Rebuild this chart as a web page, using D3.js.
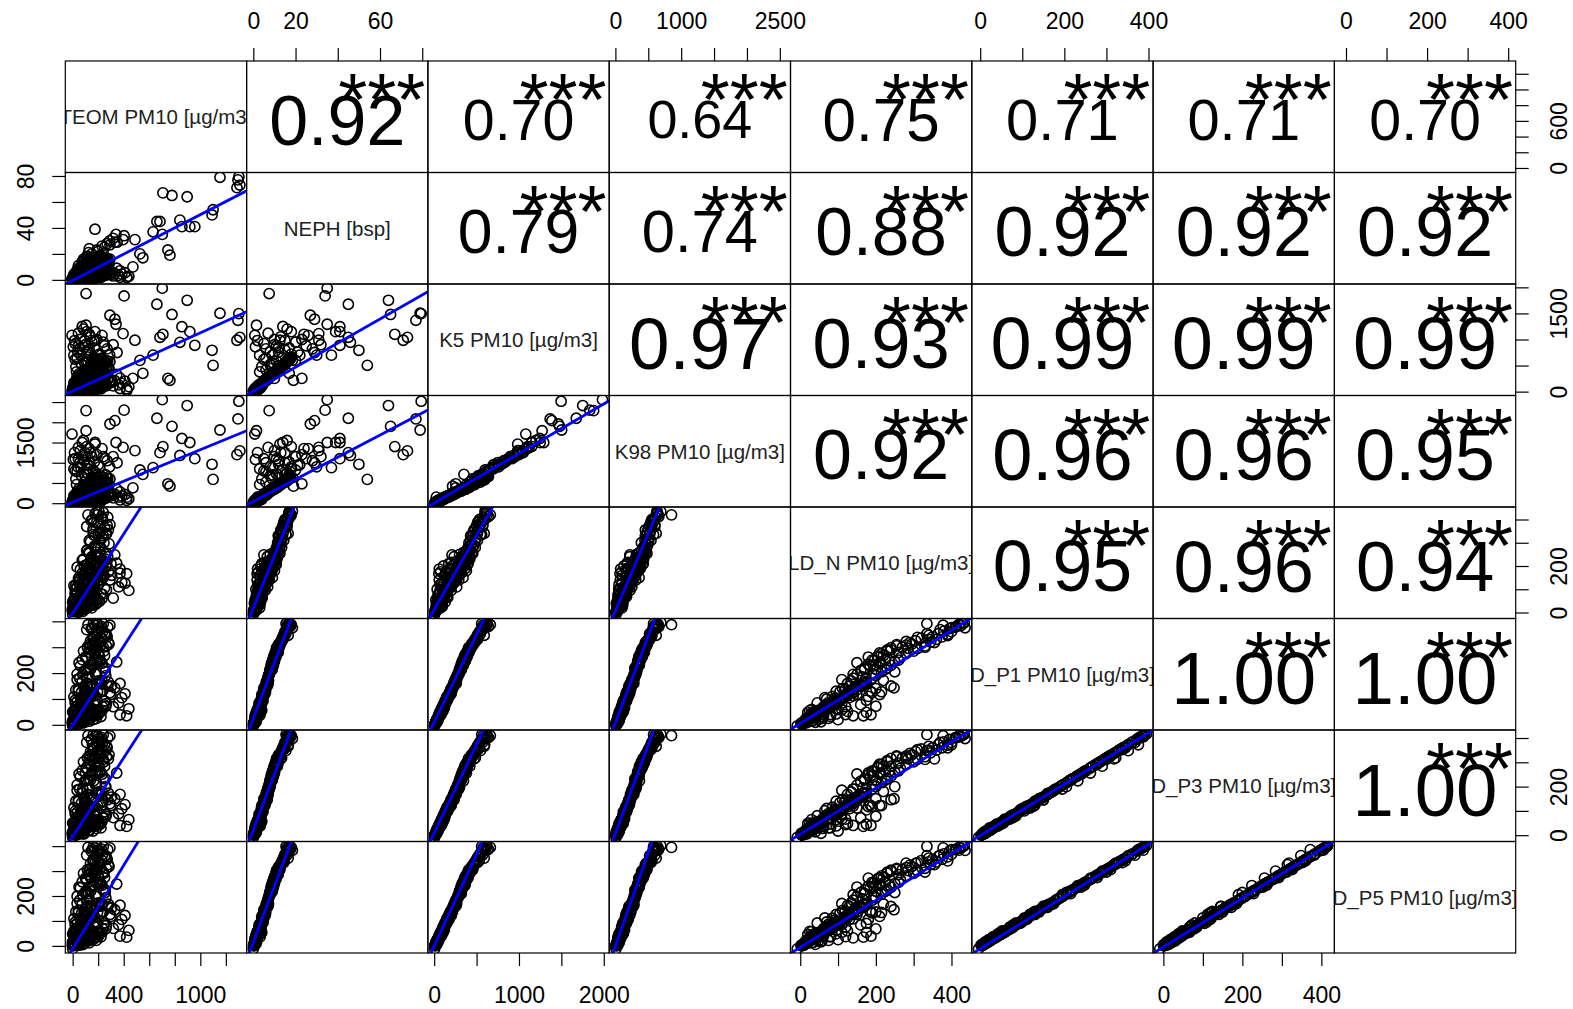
<!DOCTYPE html>
<html>
<head>
<meta charset="utf-8">
<script src="https://cdn.jsdelivr.net/npm/d3@7"></script>
<style>
  body { margin: 0; background: #fff; }
  svg text { font-family: "Liberation Sans", Arial, sans-serif; }
</style>
</head>
<body>
<div id="chart"></div>
<script>
// variable names on the diagonal
const varNames = ["TEOM PM10 [µg/m3]", "NEPH [bsp]", "K5 PM10 [µg/m3]", "K98 PM10 [µg/m3]",
  "LD_N PM10 [µg/m3]", "D_P1 PM10 [µg/m3]", "D_P3 PM10 [µg/m3]", "D_P5 PM10 [µg/m3]"];

const teom = [5,18,-3,35,60,12,90,45,120,25,
  150,70,8,100,200,0,52,140,30,180,
  230,80,110,60,130,20,170,95,240,45,
  155,210,75,115,260,35,185,135,88,225,
  10,165,250,292,345,371,410,318,371,423,
  300,330,150,220,110,200,245,130,175,215,
  160,270,190,235,162,292,266,188,227,120,
  205,140,255,180,210,145,265,195,125,40,
  65,15,85,105,55,125,160,20,75,
  28,95,140,190,210,5,50,115,175,235,
  38,80,145,265,15,62,128,98,0,155,
  70,160,25,120,200,55,180,95,240,140,
  60,215,105,170,250,85,195,130,225,45,
  150,280,110,230,75,185,140,230,160,250,
  200,145,275,175,220,115,285,200,240,170,
  360,440,305,385,
  12,48,85,132,168,205,30,72,110,150,
  190,245,20,58,95,135,175,215,260,40,
  78,118,160,200,8,65,105,145,185,230,
  35,80,125,165,210,255,50,100,140,185,
  230,275,90,195,120,130,175,215,260,110,
  155,195,240,280,165,22,55,90,130,0,
  38,75,112,-2,150,185,222,15,60,100,
  105,403,702,660,897,292,331,340,105,-5,
  175,1154,1295,1310,1287,488,684,840,957,1092,
  1100,746,762,550,472,425,707,778,918,630,
  856,1302,527,317,395,348,40,90,20,130,
  60,110,10,150,75,200,250,180,35,95,175,
  25,70,120,160,210,55,100,140,15,45,85,190,270,230,125,
  30,90,150,200,260,20,65,115,170,240,45,95,5,130,290];
const neph = [0.2,0.5,0.1,1.0,1.5,0.8,2.0,1.2,2.5,1.8,
  3.0,2.2,0.6,1.6,3.5,0.0,1.4,2.8,2.6,3.2,
  4.0,0.9,1.1,3.5,4.0,3.8,4.5,5.0,5.5,5.2,
  6.0,6.5,6.2,7.0,7.2,7.5,8.0,6.8,4.8,5.8,
  4.2,3.6,4.6,5.0,9.0,7.0,5.5,3.0,2.0,1.8,
  4.0,5.0,9.5,10.0,10.5,11.0,11.5,12.0,12.5,13.0,
  13.5,14.0,14.5,15.0,15.5,16.0,16.5,17.0,17.5,18.0,
  18.5,9.0,8.5,9.8,10.8,11.2,12.2,9.2,11.8,0.4,
  0.7,1.3,1.9,2.4,2.9,3.3,2.1,2.7,3.9,
  0.9,1.2,1.7,2.3,2.0,1.5,2.4,3.1,3.4,3.0,
  3.6,4.1,4.4,3.8,0.3,0.6,1.0,2.7,1.9,2.5,
  5.0,5.6,5.4,6.3,6.6,6.9,7.4,7.8,8.2,8.8,
  8.4,9.2,9.6,10.2,9.9,10.6,11.0,7.0,6.0,4.9,
  5.9,6.4,8.0,8.6,9.3,12.8,13.2,13.8,14.2,14.8,
  15.2,15.8,16.2,16.8,12.4,11.4,12.0,14.0,17.2,11.6,
  3.5,2.8,6.0,4.4,
  0.8,1.1,1.4,2.0,2.6,3.0,2.2,3.4,3.8,4.6,
  4.0,3.2,1.6,2.9,4.4,5.0,1.8,2.4,3.6,0.5,
  0.9,1.5,1.2,2.1,2.0,4.2,5.6,6.0,6.4,5.2,
  6.8,7.6,8.2,8.8,9.4,8.0,9.0,10.0,10.8,11.4,
  7.2,6.6,5.8,5.4,4.8,12.6,13.4,14.4,15.4,16.0,
  16.6,17.4,11.8,13.0,14.6,0.2,0.3,0.6,0.8,0.4,
  1.0,1.3,1.8,0.6,2.4,1.6,2.0,2.5,3.2,3.6,
  7.5,34,35,45,64,27,29,35,1.5,0.7,
  12.6,79,77,73,71,31,45,46,41,50,
  54,23,19,17,10,2,67,65,41,37,
  41,79.5,20,32,31,29,8,12,5,15,
  10,18,3,20,14,22,25,16,6,9,39,
  4,8,11,14,18,6,10,13,2,7,16,23,28,26,21,
  3,6,9,12,15,5,9,12,17,20,11,15,1,24,30];
const k5 = [10,30,20,45,55,60,80,70,95,100,
  75,110,40,35,90,5,25,120,115,65,
  105,15,50,140,160,150,175,190,200,210,
  225,240,250,265,280,290,300,230,180,205,
  170,130,150,180,330,260,200,110,60,55,
  172,210,340,360,380,400,410,430,445,460,
  480,500,515,535,560,575,590,620,640,662,
  600,320,310,350,390,420,440,370,410,12,
  22,52,68,88,102,118,58,132,145,
  35,48,62,78,70,75,92,108,125,100,
  128,145,152,115,18,28,40,85,72,90,
  185,200,195,230,240,255,275,295,305,320,
  315,335,355,372,360,390,405,270,235,200,
  215,245,300,330,345,470,480,495,505,525,
  545,565,585,600,455,425,440,510,615,430,
  130,95,225,160,
  30,55,40,70,95,88,85,130,150,175,
  140,120,65,105,165,185,60,75,110,25,
  20,45,35,68,95,160,200,225,240,195,
  265,290,320,345,365,300,340,380,400,420,
  260,235,215,200,175,455,485,510,545,570,
  595,625,430,470,530,8,14,18,26,15,
  38,42,58,28,62,40,52,80,112,118,
  1881,1835,1985,1676,1752,1465,1388,1292,1273,1080,
  985,1503,1368,1042,985,985,1042,946,889,793,
  505,255,217,351,255,25,1100,1480,1150,700,
  1245,1497,600,900,1113,750,760,850,920,800,
  1000,1150,700,950,1250,700,880,600,640,550,1150,
  480,520,580,650,720,820,900,1050,980,1120,1200,1000,820,1080,760,
  380,420,450,500,560,620,700,760,840,950,880,980,860,1100,700];
const k98 = [15,25,35,60,50,80,70,95,110,90,
  100,130,55,40,120,8,20,140,125,85,
  95,30,65,150,175,165,160,200,215,225,
  240,230,270,280,300,285,320,250,190,195,
  185,140,170,200,350,280,215,130,80,70,
  180,220,360,345,400,420,395,450,470,480,
  500,520,540,555,580,600,620,690,660,853,
  632,330,300,370,410,430,455,380,440,18,
  28,48,62,96,118,112,72,138,158,
  42,40,70,90,60,85,100,120,135,115,
  120,150,170,130,22,32,52,78,68,98,
  195,210,200,245,255,265,290,310,300,340,
  325,350,375,390,365,400,420,285,240,215,
  225,260,315,335,360,490,505,510,530,545,
  560,590,610,625,475,440,460,520,640,445,
  150,110,240,175,
  45,40,62,55,120,100,110,115,170,160,
  165,105,80,95,190,175,75,95,130,15,
  35,40,50,55,80,150,220,205,260,180,
  250,310,300,365,340,320,360,355,425,400,
  280,220,235,185,195,480,470,540,520,600,
  575,650,455,455,555,12,10,24,20,25,
  30,55,48,35,74,52,45,95,100,135,
  2289,2300,2560,2100,2414,1958,2040,1500,1791,1709,
  1460,1809,2083,1293,1200,1300,1250,1180,1100,962,
  589,480,420,713,380,150,1400,1900,1500,880,
  1600,2521,820,1150,1380,1000,900,1050,1100,1000,
  1300,1400,850,1150,1500,950,1100,750,780,700,1500,
  600,680,720,820,900,1000,1150,1250,1250,1380,1550,1200,1050,1350,940,
  460,520,600,640,700,800,880,960,1020,1150,1100,1250,1080,1350,900];
const ldn = [4,12,8,25,30,35,45,50,40,60,
  20,70,18,15,55,-8,10,80,75,35,
  60,5,28,95,110,100,125,130,150,145,
  165,175,170,190,200,195,215,160,120,140,
  115,90,105,140,212,169,126,62,187,167,
  210,248,240,250,265,280,300,310,330,345,
  360,375,390,400,335,378,340,434,413,420,
  436,225,230,260,205,230,255,190,260,2,
  14,22,38,48,58,66,32,82,96,
  20,24,30,42,48,52,62,68,74,78,
  88,92,85,98,10,16,26,55,44,58,
  105,112,118,125,135,140,150,160,170,180,
  185,195,205,215,220,230,240,165,155,130,
  145,175,200,210,225,290,305,320,350,365,
  380,395,410,425,280,270,295,340,430,285,
  110,95,160,130,
  35,60,48,95,110,125,30,45,70,150,
  175,160,80,120,140,190,140,175,200,40,
  55,75,100,120,25,65,95,130,165,185,
  110,140,170,200,235,250,150,180,210,240,
  220,240,200,215,180,255,280,310,335,370,
  400,420,330,355,390,6,3,18,30,12,
  20,32,42,16,62,58,80,50,75,88];
const dp1 = [3,10,6,22,28,34,40,44,52,58,
  48,62,15,24,50,-4,14,66,70,38,
  56,8,30,88,100,95,112,125,135,140,
  150,162,168,180,190,196,205,155,118,128,
  108,80,92,124,243,160,120,70,39,35,
  117,143,230,245,260,275,285,295,305,320,
  330,340,350,360,391,385,346,395,380,387,
  375,215,220,250,265,290,305,250,280,5,
  12,26,36,46,64,74,42,84,98,
  24,32,45,55,50,48,66,78,86,70,
  92,104,110,82,6,18,22,60,50,62,
  128,140,135,160,170,180,195,210,220,235,
  228,248,262,275,268,285,298,185,158,132,
  148,165,215,238,252,318,325,335,340,352,
  362,372,378,384,308,300,312,330,390,296,
  85,62,150,105,
  18,30,22,42,58,52,60,85,100,118,
  95,78,40,70,112,125,35,48,72,10,
  12,25,20,40,55,105,130,150,160,130,
  175,195,215,232,248,205,240,262,278,290,
  172,150,140,128,110,310,322,338,352,368,
  376,388,300,318,345,2,6,9,14,8,
  20,26,34,14,38,24,32,50,72,78];
const dp3 = [1,8,4,20,27,33,39,44,52,58,
  48,63,13,22,49,-9,12,68,72,37,
  57,6,29,92,104,99,117,130,141,147,
  157,170,176,190,200,207,216,162,123,134,
  113,84,96,130,256,168,126,72,40,36,
  122,150,243,259,275,291,302,312,323,339,
  350,360,371,382,414,409,366,416,402,410,
  398,227,233,265,281,307,323,265,297,3,
  10,25,35,46,65,76,41,87,102,
  23,31,45,56,50,48,67,80,89,72,
  96,108,115,85,4,16,21,60,50,63,
  134,147,141,168,178,190,206,222,233,248,
  241,262,277,291,284,302,316,195,166,138,
  155,173,227,251,266,337,344,355,360,373,
  384,394,401,407,326,318,331,350,413,314,
  88,64,157,109,
  22,28,30,38,66,48,64,80,110,112,
  104,72,46,66,120,118,40,45,78,14,
  8,30,17,44,50,100,140,145,172,124,
  185,190,228,224,262,200,252,256,292,284,
  180,146,150,122,118,326,318,352,348,382,
  372,405,312,314,360,0,8,6,18,5,
  24,22,38,12,36,28,30,54,68,84];
const dp5 = [0,7,2,18,25,31,38,42,50,56,
  46,60,12,21,48,-12,11,65,69,36,
  54,5,28,88,101,95,113,127,137,142,
  153,165,170,183,193,199,208,157,119,130,
  109,81,93,126,248,163,122,70,39,35,
  118,145,235,250,265,281,291,301,311,326,
  337,347,357,367,399,393,352,402,388,395,
  383,219,224,255,270,296,311,255,286,2,
  9,24,34,44,62,73,40,84,98,
  21,30,43,53,48,46,64,77,86,69,
  92,104,111,82,3,15,20,58,48,60,
  130,142,137,162,172,183,198,214,224,240,
  233,253,267,281,274,291,304,188,160,134,
  150,167,219,243,257,324,331,342,347,359,
  369,380,386,392,314,306,318,337,398,302,
  85,62,152,106,
  14,36,20,48,54,60,57,92,96,126,
  90,84,38,75,108,132,32,54,68,6,
  16,22,25,37,58,112,126,158,155,138,
  170,205,210,242,244,214,236,272,274,300,
  168,158,136,134,106,306,332,334,362,364,
  386,384,296,326,341,4,3,10,12,9,
  18,29,31,16,42,22,36,47,76,74];

// correlations shown in the upper panels, row by row
const corrValues = [0.92,0.70,0.64,0.75,0.71,0.71,0.70,
  0.79,0.74,0.88,0.92,0.92,0.92,
  0.97,0.93,0.99,0.99,0.99,
  0.92,0.96,0.96,0.95,
  0.95,0.96,0.94,
  1.00,1.00,
  1.00];
const corrStars = "***";

// fitted lines in the lower panels, row by row (y = a + b x)
const lineIntercepts = [-0.4,
  10, 9,
  26, 42, 4,
  -3, 20, 13, 7,
  -1.4, 25, 10.5, 8, 5.5,
  -5.8, 22, 10, 7.7, 4.2, -1.4,
  -12, 15, 0.3, -1.4, -6, -11.6, -4.6];
const lineSlopes = [0.0506,
  1.118, 23.06,
  1.296, 27.36, 1.225,
  0.852, 22.5, 0.639, 0.665,
  0.764, 21.5, 0.679, 0.670, 0.90,
  0.811, 23, 0.726, 0.727, 0.949, 1.057,
  0.838, 22.5, 0.734, 0.752, 0.94, 1.048, 0.982];

// tick marks and the tick labels R kept on each outer axis
const tickValues = [[0,200,400,600,800,1000,1200],[0,20,40,60,80],[0,500,1000,1500,2000],
  [0,500,1000,1500,2000,2500],[0,100,200,300,400],[0,100,200,300,400],[0,100,200,300,400],[0,100,200,300,400]];
const colAxisLabels = [[0,400,1000],[0,20,60],[0,1000,2000],[0,1000,2500],[0,200,400],[0,200,400],[0,200,400],[0,200,400]];
const rowAxisLabels = [[0,600],[0,40,80],[0,1500],[0,1500],[0,200],[0,200],[0,200],[0,200]];

const width = 1573, height = 1009;
const gridLeft = 65.3, gridTop = 61, cw = 181.3, ch = 111.5;
const nv = varNames.length;
const series = [teom, neph, k5, k98, ldn, dp1, dp3, dp5];
const obs = d3.range(teom.length).map(k => series.map(s => (k < s.length ? s[k] : null)));

const svg = d3.select("#chart").append("svg")
  .attr("width", width).attr("height", height)
  .attr("viewBox", `0 0 ${width} ${height}`);

const padded = s => {
  const [lo, hi] = d3.extent(s);
  const p = 0.04 * (hi - lo);
  return [lo - p, hi + p];
};
const xs = series.map((s, j) => d3.scaleLinear().domain(padded(s)).range([gridLeft + j * cw, gridLeft + (j + 1) * cw]));
const ys = series.map((s, i) => d3.scaleLinear().domain(padded(s)).range([gridTop + (i + 1) * ch, gridTop + i * ch]));

const defs = svg.append("defs");
function clipFor(i, j) {
  const id = `clip-${i}-${j}`;
  defs.append("clipPath").attr("id", id).append("rect")
    .attr("x", gridLeft + j * cw).attr("y", gridTop + i * ch).attr("width", cw).attr("height", ch);
  return `url(#${id})`;
}

// font size for the correlation text: width of the string = 0.8 of the panel
const probe = svg.append("text").attr("font-size", 100).text("0.92");
const fs0 = 0.8 * cw / (probe.node().getComputedTextLength() / 100);
probe.remove();

let lk = 0, uk = 0;
for (let i = 0; i < nv; i++) {
  for (let j = 0; j < nv; j++) {
    const x0 = gridLeft + j * cw, y0 = gridTop + i * ch;
    const cell = svg.append("g").attr("clip-path", clipFor(i, j));
    if (i > j) {
      const pts = obs.filter(d => d[i] != null && d[j] != null);
      cell.selectAll("circle").data(pts).join("circle")
        .attr("cx", d => xs[j](d[j])).attr("cy", d => ys[i](d[i]))
        .attr("r", 5.1).attr("fill", "none").attr("stroke", "#000").attr("stroke-width", 1.6);
      const a = lineIntercepts[lk], b = lineSlopes[lk];
      const [xa, xb] = xs[j].domain();
      cell.append("line")
        .attr("x1", xs[j](xa)).attr("y1", ys[i](a + b * xa))
        .attr("x2", xs[j](xb)).attr("y2", ys[i](a + b * xb))
        .attr("stroke", "#0000ff").attr("stroke-width", 2.8);
      lk++;
    } else if (i < j) {
      const r = corrValues[uk++];
      const fs = fs0 * (r + 0.3) / 1.3;
      cell.append("text")
        .attr("x", x0 + cw / 2).attr("y", y0 + ch / 2 + 0.40 * fs)
        .attr("text-anchor", "middle").attr("font-size", fs).attr("fill", "#000")
        .text(r.toFixed(2));
      cell.append("text")
        .attr("x", x0 + 0.745 * cw).attr("y", y0 + 0.2 * ch + 0.56 * fs0)
        .attr("text-anchor", "middle").attr("font-size", fs0).attr("fill", "#000")
        .text(corrStars);
    } else {
      cell.append("text")
        .attr("x", x0 + cw / 2).attr("y", y0 + ch / 2 + 7.3)
        .attr("text-anchor", "middle").attr("font-size", 20.5).attr("fill", "#222")
        .text(varNames[i]);
    }
    svg.append("rect")
      .attr("x", x0).attr("y", y0).attr("width", cw).attr("height", ch)
      .attr("fill", "none").attr("stroke", "#000").attr("stroke-width", 1.2);
  }
}

// outer axes, alternating like pairs()
const tickFs = 23;
for (let j = 0; j < nv; j++) {
  const shown = colAxisLabels[j];
  const bottom = j % 2 === 0;
  const axis = (bottom ? d3.axisBottom(xs[j]) : d3.axisTop(xs[j]))
    .tickValues(tickValues[j]).tickSize(13).tickSizeOuter(0)
    .tickFormat(d => shown.includes(d) ? d : "");
  const g = svg.append("g")
    .attr("transform", `translate(0,${bottom ? gridTop + nv * ch : gridTop})`)
    .call(axis);
  g.select(".domain").remove();
  g.selectAll(".tick line").attr("stroke", "#000").attr("stroke-width", 1.2);
  g.selectAll("text")
    .attr("font-size", tickFs).attr("font-family", '"Liberation Sans", Arial, sans-serif')
    .attr("fill", "#000").attr("dy", null)
    .attr("y", bottom ? 41.5 + 0.358 * tickFs : -40 + 0.358 * tickFs);
}
for (let i = 0; i < nv; i++) {
  const shown = rowAxisLabels[i];
  const right = i % 2 === 0;
  const axis = (right ? d3.axisRight(ys[i]) : d3.axisLeft(ys[i]))
    .tickValues(tickValues[i]).tickSize(13).tickSizeOuter(0)
    .tickFormat(d => shown.includes(d) ? d : "");
  const g = svg.append("g")
    .attr("transform", `translate(${right ? gridLeft + nv * cw : gridLeft},0)`)
    .call(axis);
  g.select(".domain").remove();
  g.selectAll(".tick line").attr("stroke", "#000").attr("stroke-width", 1.2);
  const off = right ? 43 + 0.358 * tickFs : -40 + 0.358 * tickFs;
  g.selectAll("text")
    .attr("font-size", tickFs).attr("font-family", '"Liberation Sans", Arial, sans-serif')
    .attr("fill", "#000").attr("x", null).attr("dy", null).attr("y", 0)
    .attr("text-anchor", "middle")
    .attr("transform", `translate(${off},0) rotate(-90)`);
}
</script>
</body>
</html>
